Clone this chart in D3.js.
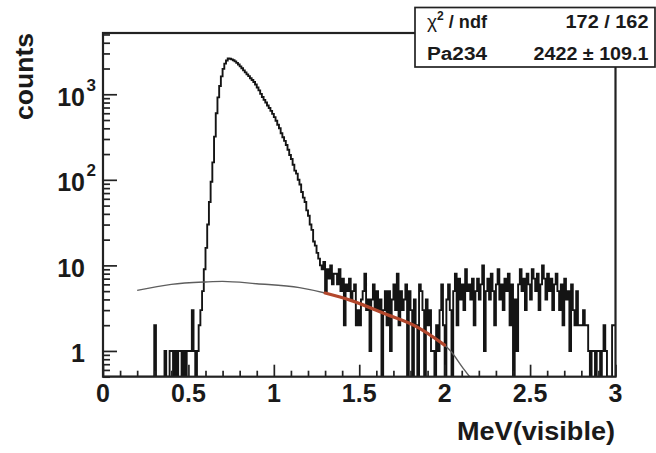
<!DOCTYPE html>
<html>
<head>
<meta charset="utf-8">
<script src="https://cdn.jsdelivr.net/npm/d3@7"></script>
<style>
  html, body { margin: 0; padding: 0; background: #fff; }
  svg { display: block; }
  text { font-family: "Liberation Sans", Arial, Helvetica, sans-serif; font-weight: bold; fill: #1a1a1a; }
</style>
</head>
<body>
<svg id="chart" width="656" height="453" viewBox="0 0 656 453"></svg>
<script>
// histogram: 300 bins of 0.01 MeV starting at 0
const binLow = 0;
const binWidth = 0.01;
const counts = [
  0,0,0,0,0,0,0,0,0,0,
  0,0,0,0,0,0,0,0,0,0,
  0,0,0,0,0,0,0,0,0,0,
  2,0,0,0,0,0,1,0,0,1,          // 0.30
  1,0,1,0,1,1,0,1,0,1,          // 0.40
  1,1,3,1,0,1,2,3,5,9,          // 0.50
  16,30,55,95,160,320,600,920,1250,1620,        // 0.60
  1980,2280,2480,2620,2600,2560,2500,2420,2330,2230, // 0.70
  2120,2010,1900,1800,1710,1630,1540,1470,1390,1300, // 0.80
  1200,1110,1010,930,860,800,740,690,640,590,   // 0.90
  540,490,440,400,350,315,285,255,225,195,      // 1.00
  175,150,128,118,100,88,72,62,55,44,           // 1.10
  38,30,26,19,17,14,12,10,9,11,                 // 1.20
  5,9,7,10,6,8,8,6,9,5,         // 1.30
  7,2,6,5,7,4,5,6,2,3,          // 1.40
  2,4,5,8,3,4,1,4,6,3,          // 1.50
  5,3,4,0,3,5,2,5,1,4,          // 1.60
  6,3,8,2,5,3,4,6,0,5,          // 1.70
  3,0,4,2,0,6,5,3,0,4,          // 1.80
  2,3,1,1,0,2,1,3,6,2,          // 1.90
  0,4,6,3,0,5,8,2,7,4,          // 2.00
  6,3,9,5,6,4,7,2,5,7,          // 2.10
  4,6,10,1,5,7,4,8,5,2,         // 2.20
  6,9,4,6,3,7,5,8,2,6,          // 2.30
  0,4,1,6,9,5,7,3,8,6,          // 2.40
  4,9,7,5,8,3,6,10,7,4,         // 2.50
  8,5,7,3,6,8,5,3,6,2,          // 2.60
  7,4,5,1,6,3,2,5,2,2,          // 2.70
  2,3,2,2,1,0,1,1,0,1,          // 2.80
  1,0,1,2,1,0,0,0,2,2           // 2.90
];

// fit function (grey = full range, red = fitted range)
const fitX = [0.2, 0.4, 0.6, 0.7, 0.9, 1.15, 1.3, 1.45, 1.65, 1.84, 2.0, 2.04, 2.1, 2.146];
const fitY = [5.1, 6.0, 6.4, 6.5, 6.1, 5.5, 4.75, 3.9, 2.72, 1.9, 1.17, 0.97, 0.66, 0.5];
const fitRange = [1.3, 2.0];

const xTickValues = [0, 0.5, 1, 1.5, 2, 2.5, 3];
const xTickLabels = ["0", "0.5", "1", "1.5", "2", "2.5", "3"];
const yTickValues = [1, 10, 100, 1000];
const yTickBase = ["1", "10", "10", "10"];
const yTickExp = ["", "", "2", "3"];

const statsRows = [
  { name: "χ", sup: "2", rest: " / ndf", value: "172 / 162" },
  { name: "Pa234", sup: "", rest: "", value: "2422 ± 109.1" }
];

const svg = d3.select("#chart");
const frame = { left: 103, right: 615.5, top: 33, bottom: 376.7 };

const x = d3.scaleLinear().domain([0, 3]).range([frame.left, frame.right]);
const y = d3.scaleLog().domain([0.5, 5200]).range([frame.bottom, frame.top]);
const yMin = y.domain()[0];

svg.append("defs").append("clipPath").attr("id", "clip")
  .append("rect")
  .attr("x", frame.left).attr("y", frame.top)
  .attr("width", frame.right - frame.left)
  .attr("height", frame.bottom - frame.top);

const plot = svg.append("g").attr("clip-path", "url(#clip)");

// histogram outline
const histPoints = counts.map((c, i) => [binLow + i * binWidth, c]);
histPoints.push([binLow + counts.length * binWidth, counts[counts.length - 1]]);

const histLine = d3.line()
  .x(d => x(d[0]))
  .y(d => y(Math.max(d[1], yMin)))
  .curve(d3.curveStepAfter);

plot.append("path")
  .datum(histPoints)
  .attr("d", histLine)
  .attr("fill", "none")
  .attr("stroke", "#141414")
  .attr("stroke-width", 1.9);

// fit curves
const fitPoints = fitX.map((v, i) => [v, fitY[i]]);
const fitLine = d3.line()
  .x(d => x(d[0]))
  .y(d => y(d[1]))
  .curve(d3.curveMonotoneX);

plot.append("path")
  .datum(fitPoints)
  .attr("d", fitLine)
  .attr("fill", "none")
  .attr("stroke", "#5e5e5e")
  .attr("stroke-width", 1.4);

plot.append("path")
  .datum(fitPoints.filter(d => d[0] >= fitRange[0] && d[0] <= fitRange[1]))
  .attr("d", fitLine)
  .attr("fill", "none")
  .attr("stroke", "#b3472c")
  .attr("stroke-width", 3.2)
  .attr("stroke-linecap", "round");

// frame
svg.append("rect")
  .attr("x", frame.left).attr("y", frame.top)
  .attr("width", frame.right - frame.left)
  .attr("height", frame.bottom - frame.top)
  .attr("fill", "none")
  .attr("stroke", "#222")
  .attr("stroke-width", 2.2);

// x ticks (pointing up into the frame)
const xMinor = d3.range(0, 31).map(i => i / 10).filter(v => Math.abs(v * 2 - Math.round(v * 2)) > 1e-6);
function styleAxis(g) {
  g.select(".domain").remove();
  g.selectAll(".tick line").attr("stroke", "#222").attr("stroke-width", 1.7);
}
svg.append("g")
  .attr("transform", `translate(0,${frame.bottom})`)
  .call(d3.axisTop(x).tickValues(xMinor).tickSize(6).tickFormat(""))
  .call(styleAxis);
svg.append("g")
  .attr("transform", `translate(0,${frame.bottom})`)
  .call(d3.axisTop(x).tickValues(xTickValues).tickSize(12).tickFormat(""))
  .call(styleAxis);

// y ticks (pointing right into the frame)
const yMinor = y.ticks().filter(v => Math.abs(Math.log10(v) - Math.round(Math.log10(v))) > 1e-6);
svg.append("g")
  .attr("transform", `translate(${frame.left},0)`)
  .call(d3.axisRight(y).tickValues(yMinor).tickSize(7).tickFormat(""))
  .call(styleAxis);
svg.append("g")
  .attr("transform", `translate(${frame.left},0)`)
  .call(d3.axisRight(y).tickValues(yTickValues).tickSize(14).tickFormat(""))
  .call(styleAxis);

// x tick labels
svg.append("g").selectAll("text")
  .data(xTickValues)
  .join("text")
  .attr("x", d => x(d))
  .attr("y", 401.5)
  .attr("text-anchor", "middle")
  .attr("font-size", 25)
  .text((d, i) => xTickLabels[i]);

// y tick labels
const yl = svg.append("g");
yl.selectAll("text.base")
  .data(yTickValues)
  .join("text")
  .attr("class", "base")
  .attr("x", 85)
  .attr("y", d => y(d) + 11.5)
  .attr("text-anchor", "end")
  .attr("font-size", 25)
  .text((d, i) => yTickBase[i]);
yl.selectAll("text.exp")
  .data(yTickValues.filter((d, i) => yTickExp[i] !== ""))
  .join("text")
  .attr("class", "exp")
  .attr("x", 86.5)
  .attr("y", d => y(d) - 3.5)
  .attr("font-size", 17)
  .text(d => yTickExp[yTickValues.indexOf(d)]);

// axis titles
svg.append("text")
  .attr("x", 615)
  .attr("y", 440)
  .attr("text-anchor", "end")
  .attr("font-size", 25)
  .attr("textLength", 158)
  .attr("lengthAdjust", "spacingAndGlyphs")
  .text("MeV(visible)");

svg.append("text")
  .attr("transform", "translate(33,120) rotate(-90)")
  .attr("font-size", 26)
  .attr("textLength", 87)
  .attr("lengthAdjust", "spacingAndGlyphs")
  .text("counts");

// stats box
const box = svg.append("g");
box.append("rect")
  .attr("x", 415).attr("y", 7.5)
  .attr("width", 240).attr("height", 59.5)
  .attr("fill", "#fff")
  .attr("stroke", "#222")
  .attr("stroke-width", 1.7);

const rowY = [27.5, 59.5];
const nameLen = [60, 60];
const valueLen = [83, 115];
statsRows.forEach((r, i) => {
  const t = box.append("text")
    .attr("x", 427)
    .attr("y", rowY[i])
    .attr("font-size", 18)
    .attr("textLength", nameLen[i])
    .attr("lengthAdjust", "spacingAndGlyphs");
  if (r.sup) {
    t.append("tspan").attr("font-weight", "normal").attr("font-size", 19).text(r.name);
    t.append("tspan").attr("font-size", 12).attr("dy", -8).text(r.sup);
    t.append("tspan").attr("dy", 8).text(r.rest);
  } else {
    t.text(r.name);
  }
  box.append("text")
    .attr("x", 648.5)
    .attr("y", rowY[i])
    .attr("text-anchor", "end")
    .attr("font-size", 18)
    .attr("textLength", valueLen[i])
    .attr("lengthAdjust", "spacingAndGlyphs")
    .text(r.value);
});
</script>
</body>
</html>
